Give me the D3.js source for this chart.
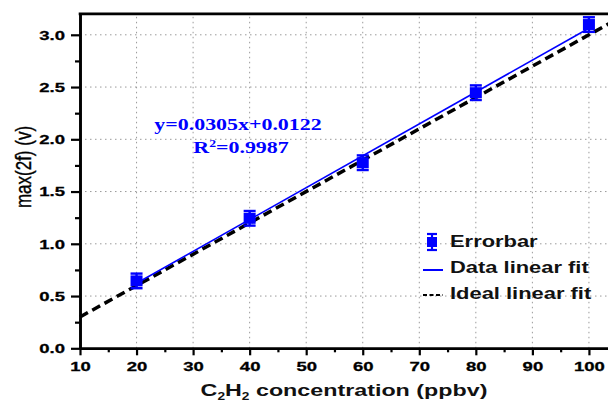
<!DOCTYPE html>
<html>
<head>
<meta charset="utf-8">
<script src="https://cdn.jsdelivr.net/npm/d3@7"></script>
<style>
  html, body { margin: 0; padding: 0; background: #fff; }
  svg { display: block; }
</style>
</head>
<body>
<div id="chart"></div>
<script>
// C2H2 calibration: max(2f) signal vs concentration

const concentration = [20, 40, 60, 80, 100];
const signal = [0.645, 1.244, 1.776, 2.446, 3.098];
const errors = [0.07, 0.07, 0.07, 0.07, 0.07];

const fitSlope = 0.0305, fitIntercept = 0.0122;
const idealSlope = 0.03, idealIntercept = 0;

const xTicks = [10, 20, 30, 40, 50, 60, 70, 80, 90, 100];
const xMinor = [15, 25, 35, 45, 55, 65, 75, 85, 95];
const yTicks = [0.0, 0.5, 1.0, 1.5, 2.0, 2.5, 3.0];
const yMinor = [0.25, 0.75, 1.25, 1.75, 2.25, 2.75];

const legendLabels = ['Errorbar', 'Data linear fit', 'Ideal linear fit'];

const BLUE = '#0000ff';
const SANS = '"Liberation Sans", Arial, sans-serif';
const SERIF = '"Liberation Serif", "Times New Roman", serif';
const SX = 1.37; // the original figure is stretched horizontally

const W = 608, H = 403;
const x = d3.scaleLinear().domain([10, 105]).range([80, 617.2]);
const y = d3.scaleLinear().domain([0, 3.2]).range([348.3, 13.9]);

const svg = d3.select('#chart').append('svg')
  .attr('width', W).attr('height', H);

svg.append('rect').attr('width', W).attr('height', H).attr('fill', '#fff');

// grid
const grid = svg.append('g')
  .attr('stroke', '#9a9a9a').attr('stroke-width', 1)
  .attr('stroke-dasharray', '1.5,3.5');
grid.selectAll('.gx').data(xTicks.slice(1)).enter().append('line')
  .attr('x1', d => x(d)).attr('x2', d => x(d))
  .attr('y1', y.range()[0]).attr('y2', y.range()[1]);
grid.selectAll('.gy').data(yTicks.slice(1)).enter().append('line')
  .attr('y1', d => y(d)).attr('y2', d => y(d))
  .attr('x1', x.range()[0]).attr('x2', x.range()[1]);

// axes
const xAxis = svg.append('g')
  .attr('transform', `translate(0,${y(0)})`)
  .call(d3.axisBottom(x).tickValues(xTicks).tickSize(7).tickSizeOuter(0).tickPadding(6));
svg.append('g')
  .attr('transform', `translate(0,${y(0)})`)
  .call(d3.axisBottom(x).tickValues(xMinor).tickSize(4).tickSizeOuter(0).tickFormat(''));

const yAxis = svg.append('g')
  .attr('transform', `translate(${x(10)},0)`)
  .call(d3.axisLeft(y).tickValues(yTicks).tickSize(9).tickSizeOuter(0).tickFormat(d3.format('.1f')));
svg.append('g')
  .attr('transform', `translate(${x(10)},0)`)
  .call(d3.axisLeft(y).tickValues(yMinor).tickSize(5).tickSizeOuter(0).tickFormat(''));

svg.selectAll('.domain').attr('stroke', '#000').attr('stroke-width', 2.6);
svg.selectAll('.tick line').attr('stroke', '#000').attr('stroke-width', 2.2);

xAxis.selectAll('text')
  .style('font-family', SANS).style('font-size', '13.5px').style('font-weight', 'bold')
  .attr('fill', '#000').attr('stroke', '#000').attr('stroke-width', 0.3)
  .attr('transform', `scale(${SX},1)`);
yAxis.selectAll('text')
  .style('font-family', SANS).style('font-size', '13.5px').style('font-weight', 'bold')
  .attr('fill', '#000').attr('stroke', '#000').attr('stroke-width', 0.3)
  .attr('x', -15 / SX)
  .attr('transform', `scale(${SX},1)`);

// top frame line
svg.append('line')
  .attr('x1', x(10) - 1.3).attr('x2', W)
  .attr('y1', y(3.2)).attr('y2', y(3.2))
  .attr('stroke', '#000').attr('stroke-width', 2.6);

// ideal linear fit
const idealLine = d3.line().x(d => x(d)).y(d => y(idealSlope * d + idealIntercept));
svg.append('path')
  .datum([10, 105])
  .attr('d', idealLine)
  .attr('fill', 'none').attr('stroke', '#000')
  .attr('stroke-width', 3.5).attr('stroke-dasharray', '9,5');

// data linear fit
const fitLine = d3.line().x(d => x(d)).y(d => y(fitSlope * d + fitIntercept));
svg.append('path')
  .datum([concentration[0], concentration[concentration.length - 1]])
  .attr('d', fitLine)
  .attr('fill', 'none').attr('stroke', BLUE).attr('stroke-width', 1.6);

// error bars + markers
const pts = concentration.map((c, i) => ({c, v: signal[i], e: errors[i]}));
const eb = svg.append('g').attr('stroke', BLUE).attr('stroke-width', 2.4);
eb.selectAll('.bar').data(pts).enter().append('line')
  .attr('x1', d => x(d.c)).attr('x2', d => x(d.c))
  .attr('y1', d => y(d.v - d.e)).attr('y2', d => y(d.v + d.e));
eb.selectAll('.capTop').data(pts).enter().append('line')
  .attr('x1', d => x(d.c) - 6).attr('x2', d => x(d.c) + 6)
  .attr('y1', d => y(d.v + d.e)).attr('y2', d => y(d.v + d.e));
eb.selectAll('.capBot').data(pts).enter().append('line')
  .attr('x1', d => x(d.c) - 6).attr('x2', d => x(d.c) + 6)
  .attr('y1', d => y(d.v - d.e)).attr('y2', d => y(d.v - d.e));
svg.selectAll('.marker').data(pts).enter().append('rect')
  .attr('x', d => x(d.c) - 6).attr('y', d => y(d.v) - 5.5)
  .attr('width', 12).attr('height', 11)
  .attr('fill', BLUE);

function stretchText(parent, px, py, str, size, weight, family, color, anchor) {
  return parent.append('text')
    .attr('transform', `translate(${px},${py}) scale(${SX},1)`)
    .attr('text-anchor', anchor || 'start')
    .style('font-family', family).style('font-size', size + 'px')
    .style('font-weight', weight).attr('fill', color)
    .text(str);
}

// equation
stretchText(svg, 238, 130, `y=${fitSlope}x+${fitIntercept}`, 16, 'bold', SERIF, BLUE, 'middle');
const r2 = stretchText(svg, 241, 153, '', 16, 'bold', SERIF, BLUE, 'middle');
r2.append('tspan').text('R');
r2.append('tspan').attr('dy', -6).style('font-size', '10px').text('2');
r2.append('tspan').attr('dy', 6).text('=0.9987');

// legend
const leg = svg.append('g');
const legY = [247, 273, 299];
// errorbar symbol
const lx = 432, ly = 242;
leg.append('line').attr('x1', lx).attr('x2', lx).attr('y1', ly - 8).attr('y2', ly + 8)
  .attr('stroke', BLUE).attr('stroke-width', 2.2);
leg.append('line').attr('x1', lx - 5).attr('x2', lx + 5).attr('y1', ly - 8).attr('y2', ly - 8)
  .attr('stroke', BLUE).attr('stroke-width', 2.2);
leg.append('line').attr('x1', lx - 5).attr('x2', lx + 5).attr('y1', ly + 8).attr('y2', ly + 8)
  .attr('stroke', BLUE).attr('stroke-width', 2.2);
leg.append('rect').attr('x', lx - 5).attr('y', ly - 5).attr('width', 10).attr('height', 10).attr('fill', BLUE);
leg.append('line').attr('x1', 423).attr('x2', 443).attr('y1', 270).attr('y2', 270)
  .attr('stroke', BLUE).attr('stroke-width', 2);
leg.append('line').attr('x1', 423).attr('x2', 443).attr('y1', 295).attr('y2', 295)
  .attr('stroke', '#000').attr('stroke-width', 2).attr('stroke-dasharray', '4,2.5');
legendLabels.forEach((t, i) => {
  stretchText(leg, 450, legY[i], t, 16, 'bold', SANS, '#111');
});

// axis titles
const xt = stretchText(svg, 344, 396, '', 17, 'bold', SANS, '#111', 'middle');
xt.append('tspan').text('C');
xt.append('tspan').attr('dy', 4).style('font-size', '10px').text('2');
xt.append('tspan').attr('dy', -4).text('H');
xt.append('tspan').attr('dy', 4).style('font-size', '10px').text('2');
xt.append('tspan').attr('dy', -4).text(' concentration (ppbv)');

svg.append('text')
  .attr('transform', 'translate(31,167) rotate(-90) scale(1,1.25)')
  .attr('text-anchor', 'middle')
  .style('font-family', SANS).style('font-size', '17px')
  .attr('fill', '#000').attr('stroke', '#000').attr('stroke-width', 0.3)
  .text('max(2f) (v)');
</script>
</body>
</html>
